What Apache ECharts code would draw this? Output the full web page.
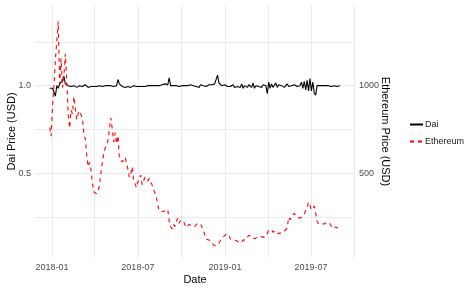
<!DOCTYPE html>
<html>
<head>
<meta charset="utf-8">
<script src="https://cdn.jsdelivr.net/npm/echarts@6/dist/echarts.min.js"></script>
<style>html,body{margin:0;padding:0;background:#fff}#c{width:474px;height:291px}</style>
</head>
<body>
<div id="c"></div>
<script>
// Observations every 3 days starting 2017-12-27
var startDate = '2017-12-27';
var stepDays = 3;
var seriesNames = ['Dai', 'Ethereum'];
var xTickLabels = ['2018-01', '2018-07', '2019-01', '2019-07'];
var xGridDates = ['2018-01', '2018-04', '2018-07', '2018-10', '2019-01', '2019-04', '2019-07', '2019-10'];
var daiTickLabels = [0.5, 1.0];
var daiGridValues = [0.25, 0.5, 0.75, 1.0, 1.25];
var ethTickLabels = [500, 1000];

var ethereum = [
  762, 712,
  884, 997, 1148, 1154, 1366, 1010, 1155, 988, 1053, 1182,
  1036, 834, 757, 860, 840, 938, 943, 806, 840, 856,
  857, 815, 728, 698, 610, 538, 562, 522, 447, 395,
  386, 383, 400, 430, 502, 503, 615, 643, 662, 689,
  687, 816, 753, 679, 731, 668, 715, 583, 586, 565,
  580, 592, 603, 524, 476, 498, 537, 464, 459, 418,
  451, 467, 490, 435, 433, 479, 469, 457, 471, 467, 434,
  410, 406, 364, 318, 286, 295, 281, 282, 286, 284,
  295, 230, 196, 184, 210, 196, 225, 244, 215, 231,
  226, 227, 229, 190, 197, 208, 205, 204, 203, 197,
  200, 215, 218, 212, 207, 176, 149, 124, 115, 120,
  118, 108, 91, 88, 87, 85, 102, 117, 128, 137, 133,
  151, 157, 151, 125, 122, 121, 116, 117, 112, 107,
  110, 105, 119, 121, 121, 135, 147, 158, 137,
  136, 126, 137, 137, 133, 140, 139, 136, 135, 139, 141,
  176, 172, 178, 164, 161, 173, 170, 155, 157, 162,
  168, 171, 170, 187, 250, 235, 253, 245, 272, 268,
  249, 247, 244, 245, 255, 268, 270, 308, 336, 318,
  292, 287, 313, 274, 227, 211, 220, 212, 217, 211,
  218, 222, 226, 212, 209, 185, 196, 194, 190, 185, 172
];

var dai = [
  0.985, 0.99,
  0.985, 0.99, 0.94, 1.0, 0.985, 1.01, 1.015, 1.03, 1.055, 1.01,
  1.005, 1.0, 1.005, 0.995, 1.0, 1.0, 0.995, 0.99, 0.995, 1.0,
  0.995, 0.995, 1.0, 1.005, 0.995, 0.99, 0.995, 0.995, 1.0, 0.995,
  1.0, 0.995, 1.005, 1.0, 0.995, 0.995, 1.0, 1.0, 0.99, 1.0,
  0.995, 1.0, 1.0, 0.995, 1.005, 1.0, 1.035, 1.01, 1.0, 0.995,
  1.0, 0.99, 1.0, 0.995, 1.005, 0.99, 0.995, 1.0, 0.99, 0.995,
  1.0, 0.995, 1.0, 0.995, 1.0, 0.995, 1.0, 1.0, 1.005, 1.0, 1.0,
  1.0, 0.995, 1.0, 0.995, 1.0, 0.995, 1.005, 1.0, 1.01, 1.0,
  1.005, 1.045, 1.0, 1.0, 1.0, 1.0, 1.0, 1.0, 0.995, 1.0,
  1.0, 1.0, 1.0, 1.0, 1.0, 0.99, 1.005, 0.995, 1.0, 1.005,
  0.995, 1.0, 0.99, 1.005, 0.995, 1.0, 1.005, 0.995, 1.0, 1.005,
  1.0, 1.005, 0.995, 1.01, 1.02, 1.06, 1.015, 1.005, 1.0, 0.995, 1.005,
  1.0, 0.995, 1.005, 0.995, 1.0, 1.005, 0.99, 1.0, 0.995, 1.005,
  0.99, 1.01, 0.985, 1.0, 1.01, 0.99, 1.005, 0.995, 0.99,
  1.015, 0.985, 1.0, 1.01, 0.995, 1.0, 0.99, 1.005, 0.995, 1.0, 0.955,
  1.02, 0.985, 1.01, 0.99, 1.0, 1.015, 0.99, 1.005, 0.995, 1.0,
  1.005, 0.99, 1.0, 1.01, 0.995, 1.005, 1.0, 0.995, 1.005, 1.0,
  0.995, 1.005, 1.0, 1.02, 0.985, 1.025, 0.975, 1.03, 0.97, 1.04,
  0.97, 1.02, 0.96, 0.945, 1.0, 0.99, 1.0, 0.995, 1.0, 1.0,
  1.0, 0.995, 1.0, 1.0, 0.995, 1.0, 1.0, 1.0, 0.995, 1.0, 1.0
];

var DAY = 86400000;
function ts(s) { var p = s.split('-'); return Date.UTC(+p[0], +p[1] - 1, p[2] ? +p[2] : 1); }
var t0 = ts(startDate);
var times = ethereum.map(function (_, i) { return t0 + i * stepDays * DAY; });
var daiData = dai.map(function (v, i) { return [times[i], v]; });
var ethData = ethereum.map(function (v, i) { return [times[i], v]; });

function pad(n) { return n < 10 ? '0' + n : '' + n; }
var FONT = 'Liberation Sans';

var chart = echarts.init(document.getElementById('c'), null, { renderer: 'canvas' });
chart.setOption({
  animation: false,
  backgroundColor: '#ffffff',
  textStyle: { fontFamily: FONT },
  grid: { left: 35, right: 119, top: 5, bottom: 33, containLabel: false, outerBoundsMode: 'none' },
  legend: {
    orient: 'vertical', left: 409, top: 120, padding: 0,
    itemWidth: 13, itemHeight: 10, itemGap: 8,
    itemStyle: { opacity: 0 },
    textStyle: { fontFamily: FONT, fontSize: 9, color: '#1a1a1a', padding: [0, 0, 0, -3] },
    data: seriesNames
  },
  xAxis: {
    type: 'value',
    min: ts('2017-11-26'), max: ts('2019-10-02'),
    name: 'Date', nameLocation: 'middle', nameGap: 16, nameMoveOverlap: false,
    nameTextStyle: { fontFamily: FONT, fontSize: 11, color: '#000' },
    axisLine: { show: false }, axisTick: { show: false, customValues: xGridDates.map(ts) },
    axisLabel: {
      customValues: xTickLabels.map(ts), margin: 5,
      fontFamily: FONT, fontSize: 9, color: '#4d4d4d',
      formatter: function (v) { var d = new Date(v); return d.getUTCFullYear() + '-' + pad(d.getUTCMonth() + 1); }
    },
    splitLine: { show: true, lineStyle: { color: '#ebebeb', width: 1 } }
  },
  yAxis: [{
    type: 'value', min: 0.017, max: 1.46, position: 'left',
    name: 'Dai Price (USD)', nameLocation: 'middle', nameGap: 18, nameMoveOverlap: false,
    nameTextStyle: { fontFamily: FONT, fontSize: 11, color: '#000' },
    axisLine: { show: false }, axisTick: { show: false, customValues: daiGridValues },
    axisLabel: { customValues: daiTickLabels, margin: 4, fontFamily: FONT, fontSize: 9, color: '#4d4d4d',
      formatter: function (v) { return v.toFixed(1); } },
    splitLine: { show: true, lineStyle: { color: '#ebebeb', width: 1 } }
  }, {
    type: 'value', min: 17, max: 1460, position: 'right',
    name: 'Ethereum Price (USD)', nameLocation: 'middle', nameGap: 25, nameRotate: -90, nameMoveOverlap: false,
    nameTextStyle: { fontFamily: FONT, fontSize: 11, color: '#000' },
    axisLine: { show: false }, axisTick: { show: false, customValues: ethTickLabels },
    axisLabel: { customValues: ethTickLabels, margin: 4, fontFamily: FONT, fontSize: 9, color: '#4d4d4d',
      formatter: function (v) { return String(v); } },
    splitLine: { show: false }
  }],
  series: [{
    name: seriesNames[0], type: 'line', data: daiData, yAxisIndex: 0,
    symbol: 'none', lineStyle: { color: '#000000', width: 1.1 }, itemStyle: { color: '#000000' }
  }, {
    name: seriesNames[1], type: 'line', data: ethData, yAxisIndex: 1,
    symbol: 'none', lineStyle: { color: '#ff0000', width: 1.1, type: [4, 4] }, itemStyle: { color: '#ff0000' }
  }]
});
</script>
</body>
</html>
